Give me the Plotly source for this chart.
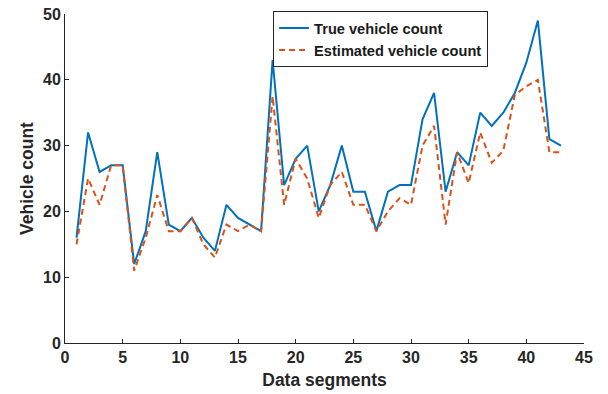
import plotly.graph_objects as go

segments = list(range(1, 44))
true_count = [16, 32, 26, 27, 27, 12, 17, 29, 18, 17,
              19, 16, 14, 21, 19, 18, 17, 43, 24, 28,
              30, 20, 24, 30, 23, 23, 17, 23, 24, 24,
              34, 38, 23, 29, 27, 35, 33, 35, 38, 42.6,
              49, 31, 30]
estimated_count = [15, 25, 21, 27, 27, 11, 16, 22.5, 17, 17,
                   19, 15, 13, 18, 17, 18, 17, 37.5, 21, 28,
                   25, 19, 24, 26, 21, 21, 17, 20, 22, 21,
                   30, 33, 18, 29, 24.3, 32, 27.4, 29.2, 37.7, 39,
                   40, 29, 29]
x_ticks = [0, 5, 10, 15, 20, 25, 30, 35, 40, 45]
y_ticks = [0, 10, 20, 30, 40, 50]

font_family = "Liberation Sans, Arial, sans-serif"
axis_color = "#262626"

fig = go.Figure()
fig.add_trace(go.Scatter(
    x=segments, y=true_count, mode="lines", name="<b>True vehicle count</b>",
    line=dict(color="#0072BD", width=2),
))
fig.add_trace(go.Scatter(
    x=segments, y=estimated_count, mode="lines", name="<b>Estimated vehicle count</b>",
    line=dict(color="#D95319", width=2, dash="6px,4px"),
))

axis_common = dict(
    showgrid=False, zeroline=False, showline=True, linecolor=axis_color,
    linewidth=1, ticks="inside", ticklen=4, tickcolor=axis_color,
    tickfont=dict(family=font_family, size=16, color=axis_color),
    mirror=False, automargin=False,
)

fig.update_layout(
    width=608, height=394,
    margin=dict(l=65, r=24, t=13, b=51),
    paper_bgcolor="white", plot_bgcolor="white",
    font=dict(family=font_family, color=axis_color),
    xaxis=dict(
        range=[0, 45], tickvals=x_ticks, ticktext=[f"<b>{v}</b>" for v in x_ticks],
        title=dict(text="<b>Data segments</b>", font=dict(size=17.5), standoff=8),
        **axis_common,
    ),
    yaxis=dict(
        range=[0, 50], tickvals=y_ticks, ticktext=[f"<b>{v}</b>" for v in y_ticks],
        title=dict(text="<b>Vehicle count</b>", font=dict(size=17.5), standoff=4),
        **axis_common,
    ),
    legend=dict(
        x=0.401, y=1.006, xanchor="left", yanchor="top",
        bgcolor="white", bordercolor="#262626", borderwidth=1,
        font=dict(family=font_family, size=14.6, color="#1a1a1a"),
        itemwidth=30, tracegroupgap=0,
    ),
    showlegend=True,
)

fig.write_html("out.html")
